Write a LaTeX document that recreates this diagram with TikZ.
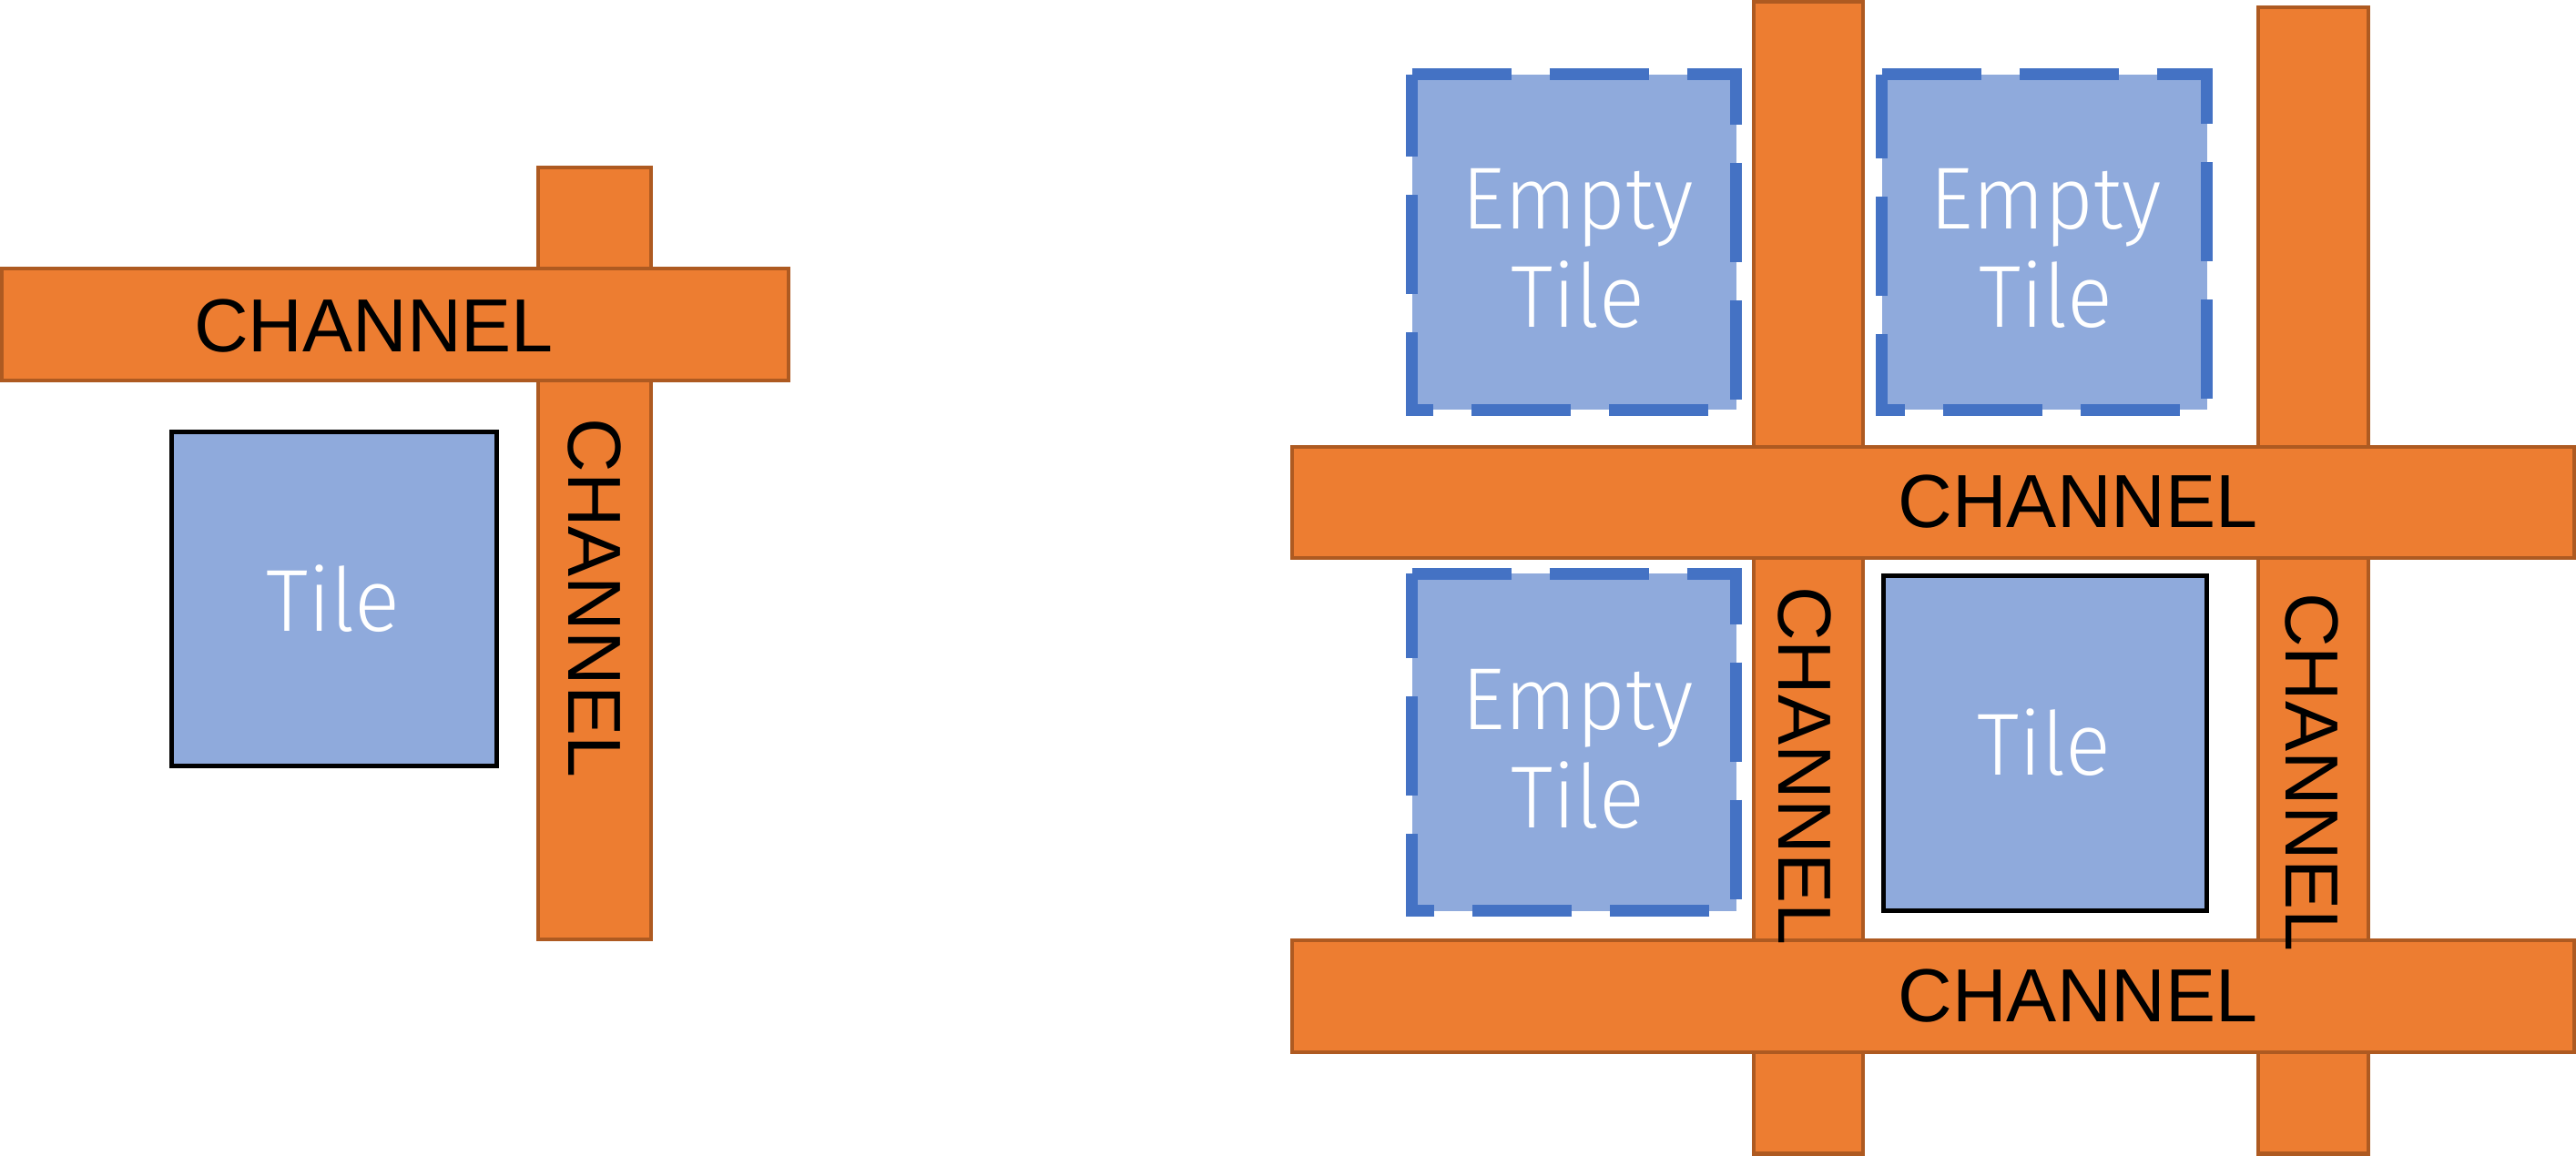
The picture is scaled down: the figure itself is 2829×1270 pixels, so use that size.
\documentclass[tikz,border=0pt]{standalone}
\usepackage{fontspec}
\setmainfont{Liberation Sans}
\newfontfamily\tilefont{Fira Sans Light}
\definecolor{chanfill}{HTML}{ED7D31}
\definecolor{chanedge}{HTML}{AE5A21}
\definecolor{tilefill}{HTML}{8FAADC}
\definecolor{dashblue}{HTML}{4472C4}
\tikzset{
  sz/.style 2 args={minimum width=#1*0.01cm, minimum height=#2*0.01cm},
  chan/.style={draw=chanedge, fill=chanfill, line width=1.14pt, inner sep=0pt, outer sep=0pt},
  tilebox/.style={draw=black, fill=tilefill, line width=1.42pt, inner sep=0pt, outer sep=0pt},
  emptybox/.style={fill=tilefill, inner sep=0pt, outer sep=0pt},
  dashb/.style={draw=dashblue, line width=3.7pt, dash pattern=on 31pt off 11.95pt, line join=miter},
  chantext/.style={font=\fontsize{23.5}{28}\selectfont, text=black, inner sep=0pt},
  tiletext/.style={font=\tilefont\fontsize{27.5}{30.7}\selectfont, text=white, inner sep=0pt, xscale=0.96, align=center}
}
\begin{document}
\begin{tikzpicture}[x=0.01cm, y=-0.01cm]
\useasboundingbox (0,0) rectangle (2829,1270);
% ---------- left group ----------
\node[chan, sz={124}{848}] (vL) at (653,608) {};
\node[chan, sz={864}{123}] (hL) at (434,356.5) {};
\node[tilebox, sz={357}{367}] (tL) at (367,658) {};
\node[chantext, anchor=base] (hLtext) at (410.5,386.4) {CHANNEL};
\node[chantext, anchor=base, rotate=-90] (vLtext) at (624.6,657) {CHANNEL};
\node[tiletext, anchor=base] (tLtext) at (366,693) {Tile};
% ---------- right group ----------
\node[chan, sz={120}{1265.5}] (v1) at (1986,634.75) {};
\node[chan, sz={121}{1259}] (v2) at (2540.5,638) {};
\node[chan, sz={1408}{122}] (hTop) at (2123,552) {};
\node[chan, sz={1408}{123}] (hBot) at (2123,1094.5) {};
\node[emptybox, sz={356}{368.5}] (e1) at (1728.5,266.25) {};
\draw[dashb] (e1.north west) -- (e1.north east) -- (e1.south east) -- (e1.south west) -- cycle;
\node[emptybox, sz={357}{368.5}] (e2) at (2245,266.25) {};
\draw[dashb] (e2.north west) -- (e2.north east) -- (e2.south east) -- (e2.south west) -- cycle;
\node[emptybox, sz={356}{370}] (e3) at (1728.5,815.5) {};
\draw[dashb] (e3.north west) -- (e3.north east) -- (e3.south east) -- (e3.south west) -- cycle;
\node[tilebox, sz={354.5}{368}] (t2) at (2245.75,816.5) {};
\node[tiletext] (e1text) at (1732.5,273) {Empty\\Tile};
\node[tiletext] (e2text) at (2247,273) {Empty\\Tile};
\node[tiletext] (e3text) at (1732.5,822.5) {Empty\\Tile};
\node[tiletext, anchor=base] (t2text) at (2244.5,851) {Tile};
\node[chantext, anchor=base] (hToptext) at (2282,580) {CHANNEL};
\node[chantext, anchor=base] (hBottext) at (2282,1122) {CHANNEL};
\node[chantext, anchor=base, rotate=-90] (v1text) at (1953,841.5) {CHANNEL};
\node[chantext, anchor=base, rotate=-90] (v2text) at (2510,848.5) {CHANNEL};
\end{tikzpicture}
\end{document}
